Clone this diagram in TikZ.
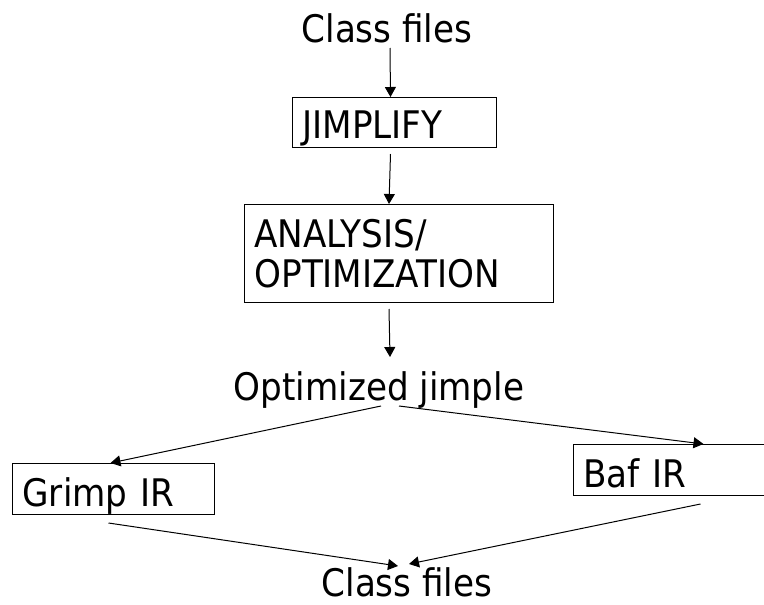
\documentclass[tikz,border=0pt]{standalone}
\usepackage{fontspec}
\setmainfont{DejaVu Sans Condensed}
\usetikzlibrary{arrows.meta}

\begin{document}
\begin{tikzpicture}[
        x=1pt, y=-1pt,
        every node/.style={font=\fontsize{38}{40}\selectfont},
        label/.style={inner sep=0pt, anchor=base},
        box/.style={rectangle, draw=black, line width=1pt, anchor=north west, align=left, inner xsep=10pt, inner ysep=0pt, text height=41pt, text depth=9pt},
        arrow/.style={line width=1pt, -{Triangle[length=10pt, width=11pt]}}
        ]
        \useasboundingbox (0,0) rectangle (764,605);

        % Input and the first passes
        \node[label] (cls1) at (387,42) {Class files};
        \node[box, text width=184pt] (jimp) at (292,97) {JIMPLIFY};
        \node[box, text width=289pt, text height=, text depth=, minimum height=98pt] (ana) at (244,204) {ANALYSIS/\\OPTIMIZATION};
        \node[label] (opt) at (379,400) {Optimized jimple};

        % The two back ends
        \node[box, text width=182pt, text height=43pt, text depth=8pt] (grimp) at (12,463) {Grimp IR};
        \node[box, text width=180pt, text height=43pt, text depth=8pt] (baf) at (573,444) {Baf IR};

        % Output
        \node[label] (cls2) at (407,596) {Class files};

        % Straight chain
        \draw[arrow] ([xshift=3pt, yshift=-6pt]cls1.base) -- ([xshift=-4pt]jimp.north);
        \draw[arrow] ([xshift=-4pt, yshift=-6pt]jimp.south) -- ([xshift=-10pt]ana.north);
        \draw[arrow] ([xshift=-10pt, yshift=-6pt]ana.south) -- ([xshift=11pt, yshift=43pt]opt.base);

        % Split into Grimp / Baf and back again
        \draw[arrow] ([xshift=2pt, yshift=-6pt]opt.base) -- ([xshift=-3pt]grimp.north);
        \draw[arrow] ([xshift=20pt, yshift=-6pt]opt.base) -- ([xshift=30pt]baf.north);
        \draw[arrow] ([xshift=-5pt, yshift=-8pt]grimp.south) -- ([xshift=-9pt, yshift=30pt]cls2.base);
        \draw[arrow] ([xshift=27pt, yshift=-8pt]baf.south) -- ([xshift=2pt, yshift=32pt]cls2.base);

    \end{tikzpicture}
\end{document}
